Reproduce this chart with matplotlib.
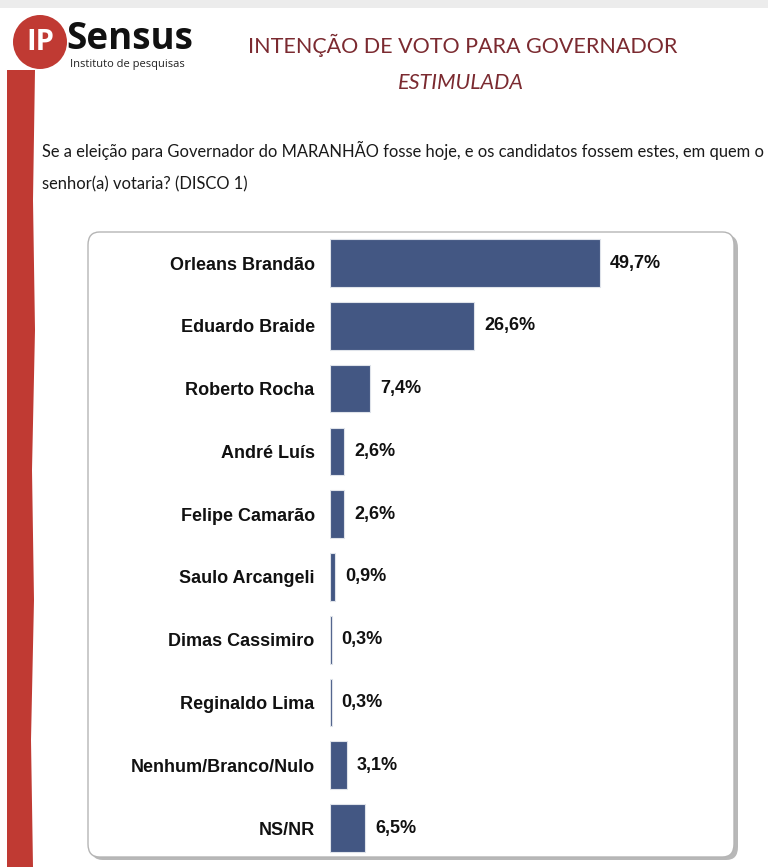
import matplotlib.pyplot as plt
from matplotlib.patches import FancyBboxPatch, Circle, Polygon, Rectangle

# dados
candidatos = ['Orleans Brandão', 'Eduardo Braide', 'Roberto Rocha', 'André Luís',
              'Felipe Camarão', 'Saulo Arcangeli', 'Dimas Cassimiro', 'Reginaldo Lima',
              'Nenhum/Branco/Nulo', 'NS/NR']
valores = [49.7, 26.6, 7.4, 2.6, 2.6, 0.9, 0.3, 0.3, 3.1, 6.5]
rotulos = ['49,7%', '26,6%', '7,4%', '2,6%', '2,6%', '0,9%', '0,3%', '0,3%', '3,1%', '6,5%']

W, H = 768, 867
fig = plt.figure(figsize=(W / 100, H / 100), dpi=100)
fig.patch.set_facecolor('white')


def fx(px):
    return px / W


def fy(py):
    return 1 - py / H


vermelho = '#c03a33'
vinho = '#7b2a30'
azul = '#435783'

# faixa cinza no topo
fig.patches.append(Rectangle((0, fy(8)), 1, 8 / H, transform=fig.transFigure,
                             facecolor='#ececec', edgecolor='none'))

# faixa vermelha lateral (borda ondulada)
ondas = [(35, 70), (33, 200), (35, 330), (32, 470), (34, 600), (31, 740), (33, 867)]
pts = [(fx(7), fy(70))] + [(fx(x), fy(y)) for x, y in ondas] + [(fx(7), fy(867))]
fig.patches.append(Polygon(pts, closed=True, transform=fig.transFigure,
                           facecolor=vermelho, edgecolor='none'))

# logo
fig.patches.append(Circle((0.40, (H - 42) / 100), 0.27, transform=fig.dpi_scale_trans,
                          facecolor=vermelho, edgecolor='none'))
fig.text(fx(40), fy(43), 'IP', color='white', fontsize=21, fontweight='bold',
         family='Open Sans', ha='center', va='center')
fig.text(fx(66), fy(49), 'Sensus', color='#111111', fontsize=26.5, fontweight='bold',
         family='Open Sans', ha='left', va='baseline')
fig.text(fx(70), fy(64), 'Instituto de pesquisas', color='#222222', fontsize=8,
         family='Open Sans', ha='left', va='center')

# títulos
fig.text(fx(463), fy(45), 'INTENÇÃO DE VOTO PARA GOVERNADOR', color=vinho,
         fontsize=15.5, family='Lato', ha='center', va='center')
fig.text(fx(461), fy(83), 'ESTIMULADA', color=vinho, fontsize=15.5,
         family='Lato', style='italic', ha='center', va='center')

# pergunta
fig.text(fx(42), fy(150), 'Se a eleição para Governador do MARANHÃO fosse hoje, e os '
         'candidatos fossem estes, em quem o', color='#1a1a1a', fontsize=11.9,
         family='Lato', ha='left', va='center')
fig.text(fx(42), fy(184), 'senhor(a) votaria? (DISCO 1)', color='#1a1a1a', fontsize=11.9,
         family='Lato', ha='left', va='center')

# caixa do gráfico com sombra
fig.patches.append(FancyBboxPatch((fx(91), fy(860)), fx(647), (857 - 232) / H,
                                  boxstyle='round,pad=0,rounding_size=0.015',
                                  transform=fig.transFigure, facecolor='#8a8a8a',
                                  edgecolor='none', alpha=0.6))
fig.patches.append(FancyBboxPatch((fx(88), fy(857)), fx(646), (857 - 232) / H,
                                  boxstyle='round,pad=0,rounding_size=0.015',
                                  transform=fig.transFigure, facecolor='white',
                                  edgecolor='#b5b5b5', linewidth=1))

# eixo das barras
x0, x1 = 330, 735
escala = 5.43  # px por ponto percentual
ax = fig.add_axes([fx(x0), fy(857), fx(x1) - fx(x0), (857 - 232) / H])
ax.set_zorder(5)
ax.set_facecolor('none')
pos = list(range(len(candidatos)))
ax.barh(pos, valores, height=0.76, color=azul, edgecolor='#dfe3ea', linewidth=0.8)
ax.set_xlim(0, (x1 - x0) / escala)
ax.set_ylim(9.46, -0.494)
ax.set_yticks(pos)
ax.set_yticklabels(candidatos, fontsize=13, fontweight='bold', family='Liberation Sans',
                   color='#111111')
ax.tick_params(axis='y', length=0, pad=11)
ax.set_xticks([])
for s in ax.spines.values():
    s.set_visible(False)

for p, v, r in zip(pos, valores, rotulos):
    ax.text(v + 10 / escala, p, r, va='center', ha='left', fontsize=13,
            fontweight='bold', family='Liberation Sans', color='#111111')

fig.savefig('out.png', dpi=100)
